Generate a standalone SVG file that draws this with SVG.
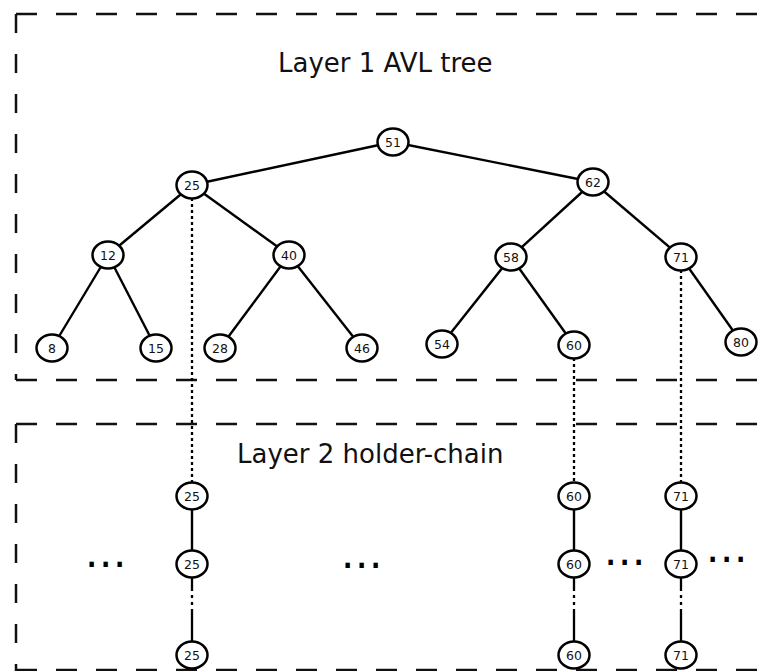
<svg xmlns="http://www.w3.org/2000/svg" width="771" height="671" viewBox="0 0 771 671">
  <style>
    .frame { stroke: #111; stroke-width: 2.5; fill: none; }
    .fh { stroke-dasharray: 21 19; }
    .fv { stroke-dasharray: 19 21; }
    .edge { stroke: #000; stroke-width: 2.4; fill: none; }
    .link { stroke: #000; stroke-width: 2.3; stroke-dasharray: 3 3; fill: none; }
    .tail { stroke: #000; stroke-width: 2.3; stroke-dasharray: 14 4 3 4 3 4 30 0; fill: none; }
    .node ellipse { fill: #fff; stroke: #000; stroke-width: 2.5; }
    .node text { font-family: "DejaVu Sans", sans-serif; font-size: 12.5px; text-anchor: middle; fill: #111; }
    .title { font-family: "DejaVu Sans", sans-serif; font-size: 26px; fill: #111; }
    .more { font-family: "DejaVu Sans", sans-serif; font-size: 42px; letter-spacing: 0.6px; fill: #000; }
  </style>

  <!-- layer frames -->
  <g id="layer1-frame">
    <line class="frame fh" x1="16" y1="14" x2="771" y2="14"/>
    <line class="frame fv" x1="16" y1="14" x2="16" y2="380"/>
    <line class="frame fh" x1="16" y1="380" x2="771" y2="380"/>
  </g>
  <g id="layer2-frame">
    <line class="frame fh" x1="16" y1="424" x2="771" y2="424"/>
    <line class="frame fv" x1="16" y1="424" x2="16" y2="671"/>
    <line class="frame fh" x1="16" y1="670" x2="771" y2="670"/>
  </g>

  <text class="title" x="278" y="72">Layer 1 AVL tree</text>
  <text class="title" x="237" y="463">Layer 2 holder-chain</text>

  <!-- connectors -->
  <g id="connectors">
    <line class="edge" x1="393" y1="142" x2="192" y2="185"/>
    <line class="edge" x1="393" y1="142" x2="593" y2="182"/>
    <line class="edge" x1="192" y1="185" x2="108" y2="255"/>
    <line class="edge" x1="192" y1="185" x2="289" y2="255"/>
    <line class="edge" x1="108" y1="255" x2="52" y2="348"/>
    <line class="edge" x1="108" y1="255" x2="156" y2="348"/>
    <line class="edge" x1="289" y1="255" x2="220" y2="348"/>
    <line class="edge" x1="289" y1="255" x2="362" y2="348"/>
    <line class="edge" x1="593" y1="182" x2="511" y2="257"/>
    <line class="edge" x1="593" y1="182" x2="681" y2="257"/>
    <line class="edge" x1="511" y1="257" x2="442" y2="344"/>
    <line class="edge" x1="511" y1="257" x2="574" y2="345"/>
    <line class="edge" x1="681" y1="257" x2="741" y2="342"/>

    <!-- tree node to its holder chain -->
    <line class="link" x1="192" y1="198" x2="192" y2="483"/>
    <line class="link" x1="574" y1="358" x2="574" y2="483"/>
    <line class="link" x1="681" y1="270" x2="681" y2="483"/>

    <!-- chain links -->
    <line class="edge" x1="192" y1="496" x2="192" y2="564"/>
    <line class="edge" x1="574" y1="496" x2="574" y2="564"/>
    <line class="edge" x1="681" y1="496" x2="681" y2="564"/>
    <line class="tail" x1="192" y1="577" x2="192" y2="642"/>
    <line class="tail" x1="574" y1="577" x2="574" y2="642"/>
    <line class="tail" x1="681" y1="577" x2="681" y2="642"/>
  </g>

  <!-- layer 1 nodes -->
  <g id="n51" class="node"><ellipse cx="393" cy="142" rx="15.5" ry="13.5"/><text x="393" y="146.5">51</text></g>
  <g id="n25" class="node"><ellipse cx="192" cy="185" rx="15.5" ry="13.5"/><text x="192" y="189.5">25</text></g>
  <g id="n62" class="node"><ellipse cx="593" cy="182" rx="15.5" ry="13.5"/><text x="593" y="186.5">62</text></g>
  <g id="n12" class="node"><ellipse cx="108" cy="255" rx="15.5" ry="13.5"/><text x="108" y="259.5">12</text></g>
  <g id="n40" class="node"><ellipse cx="289" cy="255" rx="15.5" ry="13.5"/><text x="289" y="259.5">40</text></g>
  <g id="n58" class="node"><ellipse cx="511" cy="257" rx="15.5" ry="13.5"/><text x="511" y="261.5">58</text></g>
  <g id="n71" class="node"><ellipse cx="681" cy="257" rx="15.5" ry="13.5"/><text x="681" y="261.5">71</text></g>
  <g id="n8" class="node"><ellipse cx="52" cy="348" rx="15.5" ry="13.5"/><text x="52" y="352.5">8</text></g>
  <g id="n15" class="node"><ellipse cx="156" cy="348" rx="15.5" ry="13.5"/><text x="156" y="352.5">15</text></g>
  <g id="n28" class="node"><ellipse cx="220" cy="348" rx="15.5" ry="13.5"/><text x="220" y="352.5">28</text></g>
  <g id="n46" class="node"><ellipse cx="362" cy="348" rx="15.5" ry="13.5"/><text x="362" y="352.5">46</text></g>
  <g id="n54" class="node"><ellipse cx="442" cy="344" rx="15.5" ry="13.5"/><text x="442" y="348.5">54</text></g>
  <g id="n60" class="node"><ellipse cx="574" cy="345" rx="15.5" ry="13.5"/><text x="574" y="349.5">60</text></g>
  <g id="n80" class="node"><ellipse cx="741" cy="342" rx="15.5" ry="13.5"/><text x="741" y="346.5">80</text></g>

  <!-- layer 2 holder chains -->
  <g id="h25a" class="node"><ellipse cx="192" cy="496" rx="15.5" ry="13.5"/><text x="192" y="500.5">25</text></g>
  <g id="h25b" class="node"><ellipse cx="192" cy="564" rx="15.5" ry="13.5"/><text x="192" y="568.5">25</text></g>
  <g id="h25c" class="node"><ellipse cx="192" cy="655" rx="15.5" ry="13.5"/><text x="192" y="659.5">25</text></g>
  <g id="h60a" class="node"><ellipse cx="574" cy="496" rx="15.5" ry="13.5"/><text x="574" y="500.5">60</text></g>
  <g id="h60b" class="node"><ellipse cx="574" cy="564" rx="15.5" ry="13.5"/><text x="574" y="568.5">60</text></g>
  <g id="h60c" class="node"><ellipse cx="574" cy="655" rx="15.5" ry="13.5"/><text x="574" y="659.5">60</text></g>
  <g id="h71a" class="node"><ellipse cx="681" cy="496" rx="15.5" ry="13.5"/><text x="681" y="500.5">71</text></g>
  <g id="h71b" class="node"><ellipse cx="681" cy="564" rx="15.5" ry="13.5"/><text x="681" y="568.5">71</text></g>
  <g id="h71c" class="node"><ellipse cx="681" cy="655" rx="15.5" ry="13.5"/><text x="681" y="659.5">71</text></g>

  <!-- elided chains -->
  <text class="more" x="85" y="567">...</text>
  <text class="more" x="341" y="568">...</text>
  <text class="more" x="604" y="565">...</text>
  <text class="more" x="706" y="562">...</text>
</svg>
